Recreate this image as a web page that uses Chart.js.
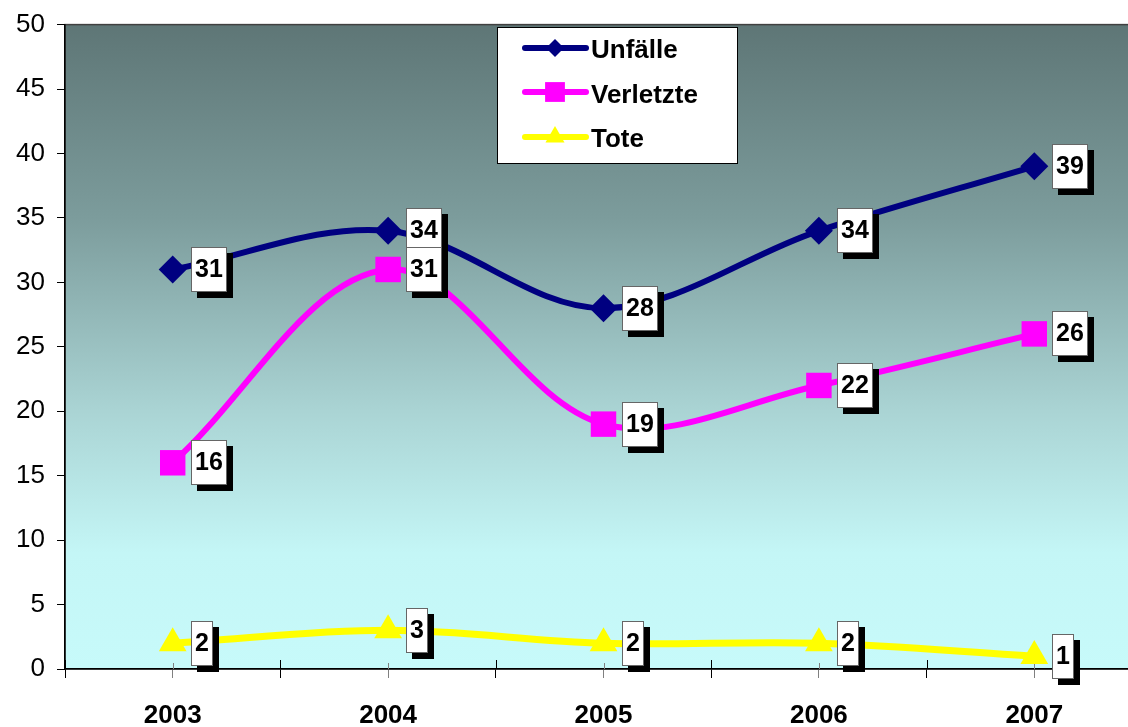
<!DOCTYPE html>
<html>
<head>
<meta charset="utf-8">
<script src="https://cdn.jsdelivr.net/npm/chart.js@4.4.1/dist/chart.umd.min.js"></script>
<style>
html, body { margin: 0; padding: 0; overflow: hidden; background: #fff; }
canvas { display: block; margin-top: -3px; }
</style>
</head>
<body>
<canvas id="chart" width="1164" height="730"></canvas>
<script>
const years = ['2003', '2004', '2005', '2006', '2007'];
const seriesNames = ['Unfälle', 'Verletzte', 'Tote'];
const unfaelle = [31, 34, 28, 34, 39];
const verletzte = [16, 31, 19, 22, 26];
const tote = [2, 3, 2, 2, 1];
const yMin = 0, yMax = 50, yStep = 5;

const FONT = '"Liberation Sans", Arial, sans-serif';

const toPoints = arr => arr.map((v, i) => ({ x: i, y: v }));

// gradient plot background + thin frame
const plotBackground = {
	id: 'plotBackground',
	beforeDraw(chart) {
		const { ctx, chartArea: a } = chart;
		const g = ctx.createLinearGradient(0, a.top, 0, a.bottom);
		g.addColorStop(0, 'rgb(94,118,118)');
		g.addColorStop(0.3, 'rgb(124,156,156)');
		g.addColorStop(0.6, 'rgb(170,212,212)');
		g.addColorStop(0.82, 'rgb(196,246,246)');
		g.addColorStop(1, 'rgb(199,250,250)');
		ctx.save();
		ctx.fillStyle = g;
		ctx.fillRect(a.left, a.top, a.right - a.left, a.bottom - a.top);
		ctx.strokeStyle = '#404040';
		ctx.lineWidth = 1.5;
		ctx.strokeRect(a.left, a.top, a.right - a.left, a.bottom - a.top);
		ctx.restore();
	}
};

// inner half of the x tick marks (they cross the axis)
const innerTicks = {
	id: 'innerTicks',
	beforeDatasetsDraw(chart) {
		const { ctx, scales: { x } } = chart;
		ctx.save();
		ctx.lineWidth = 1;
		for ( const t of x.ticks ) {
			const px = Math.round(x.getPixelForValue(t.value)) + 0.5;
			ctx.strokeStyle = Number.isInteger(t.value) ? '#808080' : '#000';
			ctx.beginPath();
			ctx.moveTo(px, x.top - (Number.isInteger(t.value) ? 6 : 9));
			ctx.lineTo(px, x.top);
			ctx.stroke();
		}
		ctx.restore();
	}
};

// boxed value labels with a black drop shadow
const valueLabels = {
	id: 'valueLabels',
	afterDatasetsDraw(chart) {
		const ctx = chart.ctx;
		ctx.save();
		ctx.font = 'bold 25px ' + FONT;
		ctx.textAlign = 'center';
		ctx.textBaseline = 'middle';
		chart.data.datasets.forEach((ds, i) => {
			const meta = chart.getDatasetMeta(i);
			meta.data.forEach((p, j) => {
				const text = String(ds.data[j].y);
				const w = Math.round(ctx.measureText(text).width + 8);
				const h = 45;
				const bx = Math.round(p.x + 18), by = Math.round(p.y - h / 2);
				ctx.fillStyle = '#000';
				ctx.fillRect(bx + 6, by + 6, w, h);
				ctx.fillStyle = '#fff';
				ctx.fillRect(bx, by, w, h);
				ctx.strokeStyle = '#666';
				ctx.lineWidth = 1;
				ctx.strokeRect(bx + 0.5, by + 0.5, w - 1, h - 1);
				ctx.fillStyle = '#000';
				ctx.fillText(text, bx + w / 2, by + h / 2 + 1);
			});
		});
		ctx.restore();
	}
};

// legend box inside the plot
const legendBox = {
	id: 'legendBox',
	afterDraw(chart) {
		const ctx = chart.ctx;
		const lx = 497, ly = 30, lw = 240, lh = 136;
		const lineY = [51, 95, 140];
		const textY = [54, 99, 143];
		const markR = [9, 14, 11];
		ctx.save();
		ctx.fillStyle = '#fff';
		ctx.fillRect(lx, ly, lw, lh);
		ctx.strokeStyle = '#000';
		ctx.lineWidth = 1;
		ctx.strokeRect(lx + 0.5, ly + 0.5, lw, lh);
		chart.data.datasets.forEach((ds, i) => {
			ctx.strokeStyle = ds.borderColor;
			ctx.lineWidth = 6;
			ctx.lineCap = 'round';
			ctx.beginPath();
			ctx.moveTo(525, lineY[i]);
			ctx.lineTo(586, lineY[i]);
			ctx.stroke();
			ctx.fillStyle = ds.backgroundColor;
			Chart.helpers.drawPoint(ctx, { pointStyle: ds.pointStyle, radius: markR[i], rotation: 0, borderWidth: 0 }, 555, lineY[i]);
			ctx.fillStyle = '#000';
			ctx.font = 'bold 26px ' + FONT;
			ctx.textAlign = 'left';
			ctx.textBaseline = 'middle';
			ctx.fillText(ds.label, 591, textY[i]);
		});
		ctx.restore();
	}
};

new Chart(document.getElementById('chart'), {
	type: 'line',
	data: {
		datasets: [
			{
				label: seriesNames[0],
				data: toPoints(unfaelle),
				borderColor: '#000080',
				backgroundColor: '#000080',
				pointStyle: 'rectRot',
				pointRadius: 14,
				pointBorderWidth: 0,
				order: 0
			},
			{
				label: seriesNames[1],
				data: toPoints(verletzte),
				borderColor: '#ff00ff',
				backgroundColor: '#ff00ff',
				pointStyle: 'rect',
				pointRadius: 18,
				pointBorderWidth: 0,
				order: 1
			},
			{
				label: seriesNames[2],
				data: toPoints(tote),
				borderColor: '#ffff00',
				backgroundColor: '#ffff00',
				pointStyle: 'triangle',
				pointRadius: 16,
				pointBorderWidth: 0,
				borderWidth: 7,
				order: 2
			}
		]
	},
	options: {
		responsive: false,
		animation: false,
		layout: { padding: { top: 20, right: 9, left: 0, bottom: 0 } },
		plugins: {
			legend: { display: false },
			tooltip: { enabled: false }
		},
		elements: {
			line: { borderWidth: 6, tension: 0.35, fill: false },
			point: { borderWidth: 0 }
		},
		datasets: { line: { clip: false } },
		scales: {
			x: {
				type: 'linear',
				min: -0.5,
				max: 4.5,
				afterFit(s) { s.height = 58; },
				ticks: {
					stepSize: 0.5,
					autoSkip: false,
					maxRotation: 0,
					padding: 22,
					color: '#000',
					font: { family: FONT, size: 26, weight: 'bold' },
					callback: v => Number.isInteger(v) ? years[v] : ''
				},
				grid: {
					drawOnChartArea: false,
					tickLength: 9,
					color: c => (c.tick && Number.isInteger(c.tick.value)) ? '#808080' : '#000'
				},
				border: { color: '#000', width: 1.5 }
			},
			y: {
				min: yMin,
				max: yMax,
				afterFit(s) { s.width = 65; },
				ticks: {
					stepSize: yStep,
					padding: 12,
					color: '#000',
					font: { family: FONT, size: 26 }
				},
				grid: {
					drawOnChartArea: false,
					tickLength: 8,
					color: '#000'
				},
				border: { color: '#000', width: 1.5 }
			}
		}
	},
	plugins: [plotBackground, innerTicks, valueLabels, legendBox]
});
</script>
</body>
</html>
